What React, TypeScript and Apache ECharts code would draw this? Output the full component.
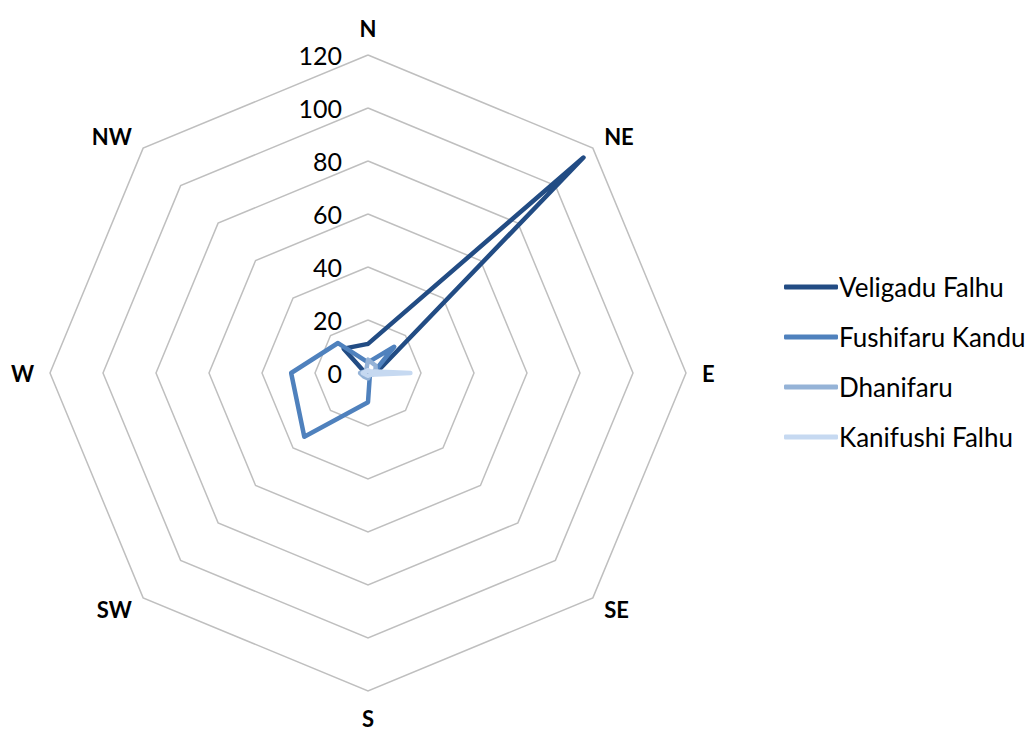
import React, { useEffect, useRef } from "react";
import * as echarts from "echarts";

const directions = ["N", "NE", "E", "SE", "S", "SW", "W", "NW"];
const axisMax = 120;
const tickStep = 20;

const veligaduFalhu = [11, 115, 3, 1, 1, 1, 1, 13];
const fushifaruKandu = [4, 14, 2, 1, 11, 34, 29, 16];
const dhanifaru = [5, 4, 3, 1, 2, 2, 3, 1];
const kanifushiFalhu = [1, 1, 16, 1, 1, 1, 2, 1];

const seriesNames = ["Veligadu Falhu", "Fushifaru Kandu", "Dhanifaru", "Kanifushi Falhu"];
const seriesColors = ["#224C84", "#4F81BD", "#95B3D7", "#C6D9F1"];

// ECharts radar lays indicators counter-clockwise; reorder so compass runs clockwise.
const order = [0, 7, 6, 5, 4, 3, 2, 1];

export default function App() {
  const ref = useRef<HTMLDivElement>(null);
  useEffect(() => {
    if (!ref.current) return;
    const chart = echarts.init(ref.current, undefined, { renderer: "svg" });
    const all = [veligaduFalhu, fushifaruKandu, dhanifaru, kanifushiFalhu];
    const indicator = order.map((i, k) => {
      const ind: any = { name: directions[i], min: 0, max: axisMax };
      if (k === 0) {
        ind.axisLabel = {
          show: true,
          color: "#000",
          fontSize: 25,
          fontFamily: "Lato",
          margin: 26,
          formatter: (v: number) => String(v),
        };
      }
      return ind;
    });
    chart.setOption({
      animation: false,
      legend: {
        orient: "vertical",
        left: 779,
        top: 269,
        itemWidth: 54,
        itemHeight: 5,
        itemGap: 24,
        icon: "roundRect",
        data: seriesNames.map((n, i) => ({
          name: n,
          itemStyle: { color: seriesColors[i] },
        })),
        textStyle: { fontSize: 26, fontFamily: "Lato", color: "#000", padding: [0, 0, 0, -4] },
      },
      radar: {
        center: [368, 373],
        radius: 318,
        startAngle: 90,
        splitNumber: axisMax / tickStep,
        shape: "polygon",
        indicator,
        axisName: {
          color: "#000",
          fontSize: 22,
          fontWeight: "bold",
          fontFamily: "Lato",
        },
        nameGap: 16,
        axisLine: { show: false },
        axisTick: { show: false },
        axisLabel: { show: false },
        splitArea: { show: false },
        splitLine: { lineStyle: { color: "#BFBFBF", width: 1.5 } },
      },
      series: all.map((arr, i) => ({
        type: "radar",
        name: seriesNames[i],
        symbol: "none",
        lineStyle: { color: seriesColors[i], width: 4.5, cap: "round", join: "round" },
        itemStyle: { color: seriesColors[i] },
        data: [{ value: order.map((j) => arr[j]), name: seriesNames[i] }],
      })),
    });
    return () => chart.dispose();
  }, []);
  return (
    <div
      ref={ref}
      style={{ position: "absolute", left: 0, top: 0, width: 1033, height: 731, background: "#fff" }}
    />
  );
}
